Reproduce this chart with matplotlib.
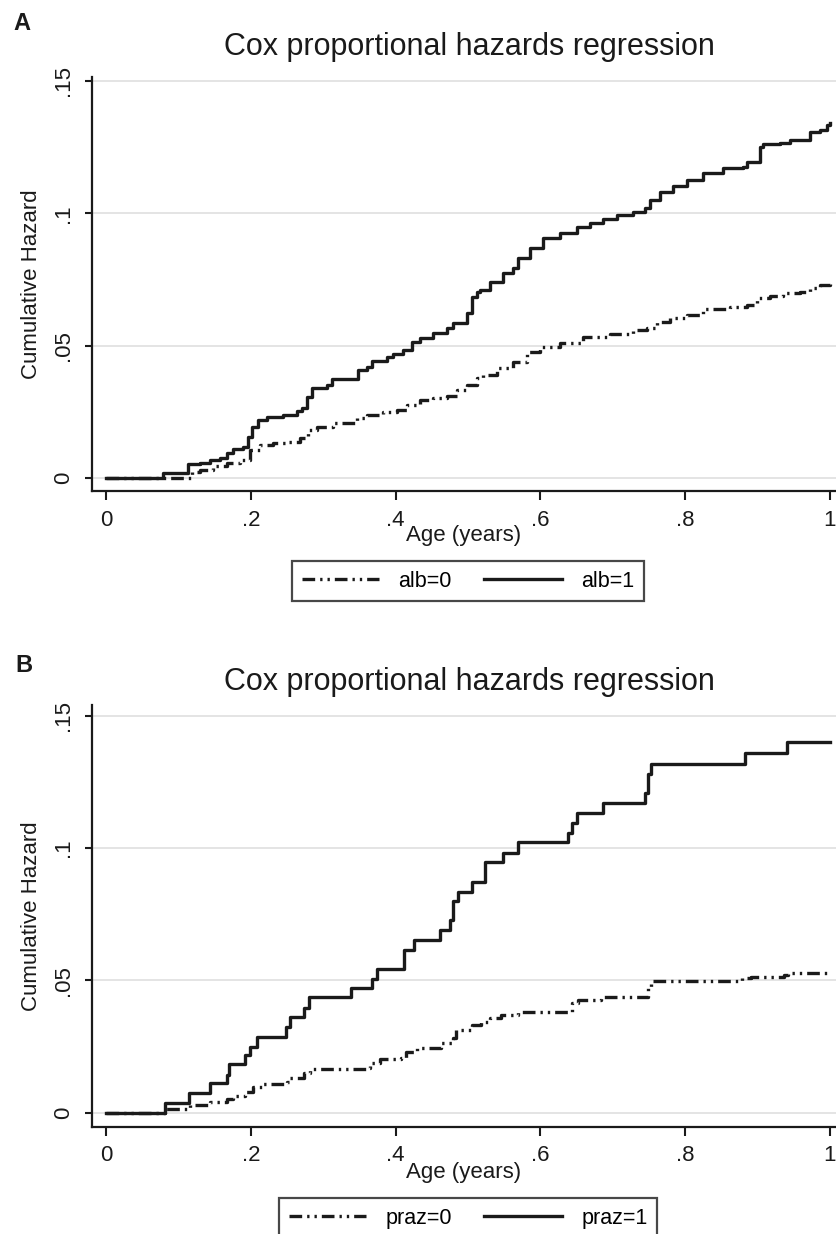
import numpy as np
import matplotlib
matplotlib.use("Agg")
import matplotlib.pyplot as plt
from matplotlib.lines import Line2D

plt.rcParams['font.family'] = ['Liberation Sans', 'DejaVu Sans']

# panel A: albendazole groups (age in years, cumulative hazard)
alb0_x = [0.0, 0.113, 0.119, 0.130, 0.148, 0.167, 0.185, 0.199, 0.213, 0.231, 0.250,
          0.268, 0.279, 0.291, 0.314, 0.347, 0.360, 0.383, 0.402, 0.416, 0.434,
          0.452, 0.471, 0.485, 0.499, 0.512, 0.521, 0.540, 0.562, 0.581, 0.599,
          0.627, 0.659, 0.696, 0.728, 0.747, 0.761, 0.779, 0.802, 0.825, 0.862,
          0.885, 0.899, 0.917, 0.935, 0.959, 0.972, 0.986, 1.0]
alb0_y = [0.0, 0.0, 0.0023, 0.0030, 0.0045, 0.0057, 0.0068, 0.0106, 0.0125, 0.0132, 0.0136,
          0.0151, 0.0181, 0.0193, 0.0208, 0.0227, 0.0238, 0.0249, 0.0257, 0.0276, 0.0295,
          0.0302, 0.0310, 0.0332, 0.0351, 0.0378, 0.0389, 0.0416, 0.0438, 0.0476, 0.0495,
          0.0510, 0.0533, 0.0544, 0.0559, 0.0567, 0.0589, 0.0604, 0.0616, 0.0638, 0.0646,
          0.0654, 0.0680, 0.0688, 0.0699, 0.0703, 0.0718, 0.0729, 0.0740]

alb1_x = [0.0, 0.079, 0.113, 0.130, 0.144, 0.157, 0.167, 0.175, 0.189, 0.196, 0.202,
          0.210, 0.222, 0.244, 0.264, 0.271, 0.278, 0.285, 0.305, 0.312, 0.348,
          0.360, 0.367, 0.388, 0.396, 0.410, 0.423, 0.434, 0.452, 0.471, 0.479,
          0.499, 0.506, 0.512, 0.517, 0.530, 0.548, 0.562, 0.569, 0.586, 0.604,
          0.627, 0.651, 0.669, 0.686, 0.706, 0.728, 0.744, 0.751, 0.765, 0.783,
          0.802, 0.825, 0.852, 0.880, 0.885, 0.903, 0.907, 0.931, 0.945, 0.972,
          0.986, 0.996, 1.0]
alb1_y = [0.0, 0.0019, 0.0053, 0.0057, 0.0068, 0.0076, 0.0094, 0.0110, 0.0117, 0.0155, 0.0193,
          0.0219, 0.0230, 0.0238, 0.0253, 0.0264, 0.0306, 0.0340, 0.0351, 0.0374, 0.0408,
          0.0419, 0.0442, 0.0457, 0.0468, 0.0484, 0.0514, 0.0529, 0.0548, 0.0567, 0.0586,
          0.0623, 0.0684, 0.0703, 0.0710, 0.0740, 0.0774, 0.0793, 0.0831, 0.0869, 0.0907,
          0.0926, 0.0948, 0.0963, 0.0978, 0.0994, 0.1005, 0.1020, 0.1050, 0.1080, 0.1103,
          0.1126, 0.1152, 0.1171, 0.1175, 0.1194, 0.1250, 0.1262, 0.1266, 0.1277, 0.1307,
          0.1315, 0.1334, 0.1341]

# panel B: praziquantel groups
praz0_x = [0.0, 0.081, 0.116, 0.144, 0.167, 0.176, 0.192, 0.203, 0.217, 0.250, 0.254,
           0.273, 0.282, 0.360, 0.365, 0.378, 0.408, 0.415, 0.429, 0.463, 0.479,
           0.484, 0.505, 0.518, 0.530, 0.546, 0.569, 0.643, 0.652, 0.684, 0.749,
           0.753, 0.878, 0.891, 0.937, 0.942, 1.0]
praz0_y = [0.0, 0.0013, 0.0029, 0.0042, 0.0050, 0.0063, 0.0080, 0.0098, 0.0110, 0.0117, 0.0130,
           0.0149, 0.0164, 0.0168, 0.0187, 0.0202, 0.0206, 0.0231, 0.0243, 0.0262, 0.0281,
           0.0313, 0.0332, 0.0344, 0.0357, 0.0369, 0.0382, 0.0414, 0.0426, 0.0439, 0.0470,
           0.0499, 0.0508, 0.0514, 0.0520, 0.0529, 0.0529]

praz1_x = [0.0, 0.081, 0.115, 0.143, 0.167, 0.170, 0.192, 0.199, 0.208, 0.249, 0.254,
           0.273, 0.281, 0.338, 0.367, 0.374, 0.411, 0.425, 0.461, 0.475, 0.479,
           0.486, 0.505, 0.523, 0.548, 0.569, 0.638, 0.643, 0.650, 0.687, 0.744,
           0.749, 0.753, 0.882, 0.941, 1.0]
praz1_y = [0.0, 0.0038, 0.0073, 0.0113, 0.0143, 0.0183, 0.0218, 0.0250, 0.0287, 0.0325, 0.0360,
           0.0395, 0.0436, 0.0470, 0.0504, 0.0542, 0.0615, 0.0653, 0.0690, 0.0729, 0.0800,
           0.0836, 0.0873, 0.0949, 0.0980, 0.1025, 0.1056, 0.1094, 0.1134, 0.1170, 0.1208,
           0.1280, 0.1317, 0.1359, 0.1400, 0.1400]

xticks = [0, 0.2, 0.4, 0.6, 0.8, 1.0]
xticklabels = ['0', '.2', '.4', '.6', '.8', '1']
yticks = [0, 0.05, 0.1, 0.15]
yticklabels = ['0', '.05', '.1', '.15']

W, H = 836, 1234
fig = plt.figure(figsize=(W / 100, H / 100), dpi=100)
ink = '#1a1a1a'
lw = 2.4
dashdot = (0, (3.8, 1.5, 0.7, 1.5, 0.7, 1.5))


def setup(ax, ylim):
    ax.set_xlim(-0.0193, 1.0083)
    ax.set_ylim(*ylim)
    for s in ['top', 'right']:
        ax.spines[s].set_visible(False)
    for s in ['left', 'bottom']:
        ax.spines[s].set_linewidth(1.6)
        ax.spines[s].set_color(ink)
    ax.set_xticks(xticks)
    ax.set_xticklabels(xticklabels)
    ax.set_yticks(yticks)
    ax.set_yticklabels(yticklabels, rotation=90, va='center')
    ax.tick_params(axis='x', length=6.5, width=1.5, pad=7, labelsize=16, colors=ink)
    ax.tick_params(axis='y', length=5, width=1.5, pad=8, labelsize=16, colors=ink)
    ax.grid(axis='y', color='#e2e2e2', lw=1.3)
    ax.set_axisbelow(True)
    ax.set_xlabel('Age (years)', fontsize=16, color=ink)
    ax.set_ylabel('Cumulative Hazard', fontsize=16, color=ink)
    ax.xaxis.set_label_coords(0.5, -0.083)
    ax.yaxis.set_label_coords(-0.067, 0.5)


def legend(labels, y):
    handles = [Line2D([], [], color=ink, lw=lw, ls=dashdot),
               Line2D([], [], color=ink, lw=lw)]
    leg = fig.legend(handles, labels, loc='upper center', bbox_to_anchor=(468 / W, y),
                     ncol=2, fontsize=15.5, frameon=True, fancybox=False, edgecolor=ink,
                     handlelength=3.6, columnspacing=1.5, handletextpad=0.9,
                     borderpad=0.45, borderaxespad=0)
    leg.get_frame().set_linewidth(1.6)


# panel A
axA = fig.add_axes([92 / W, 1 - 491 / H, 744 / W, 414 / H])
setup(axA, (-0.0049, 0.1515))
axA.plot(alb0_x, alb0_y, drawstyle='steps-post', color=ink, lw=lw, ls=dashdot)
axA.plot(alb1_x, alb1_y, drawstyle='steps-post', color=ink, lw=lw)
fig.text(469 / W, 1 - 47 / H, 'Cox proportional hazards regression', fontsize=22,
         ha='center', va='center', color=ink)
fig.text(22 / W, 1 - 24 / H, 'A', fontsize=17, fontweight='bold', ha='center',
         va='center', color=ink)
legend(['alb=0', 'alb=1'], 1 - 561 / H)

# panel B
axB = fig.add_axes([92 / W, 1 - 1126.7 / H, 744 / W, 421.7 / H])
setup(axB, (-0.0053, 0.1541))
axB.plot(praz0_x, praz0_y, drawstyle='steps-post', color=ink, lw=lw, ls=dashdot)
axB.plot(praz1_x, praz1_y, drawstyle='steps-post', color=ink, lw=lw)
fig.text(469 / W, 1 - 682 / H, 'Cox proportional hazards regression', fontsize=22,
         ha='center', va='center', color=ink)
fig.text(24 / W, 1 - 665 / H, 'B', fontsize=17, fontweight='bold', ha='center',
         va='center', color=ink)
legend(['praz=0', 'praz=1'], 1 - 1198 / H)

fig.savefig('out.png', dpi=100)
